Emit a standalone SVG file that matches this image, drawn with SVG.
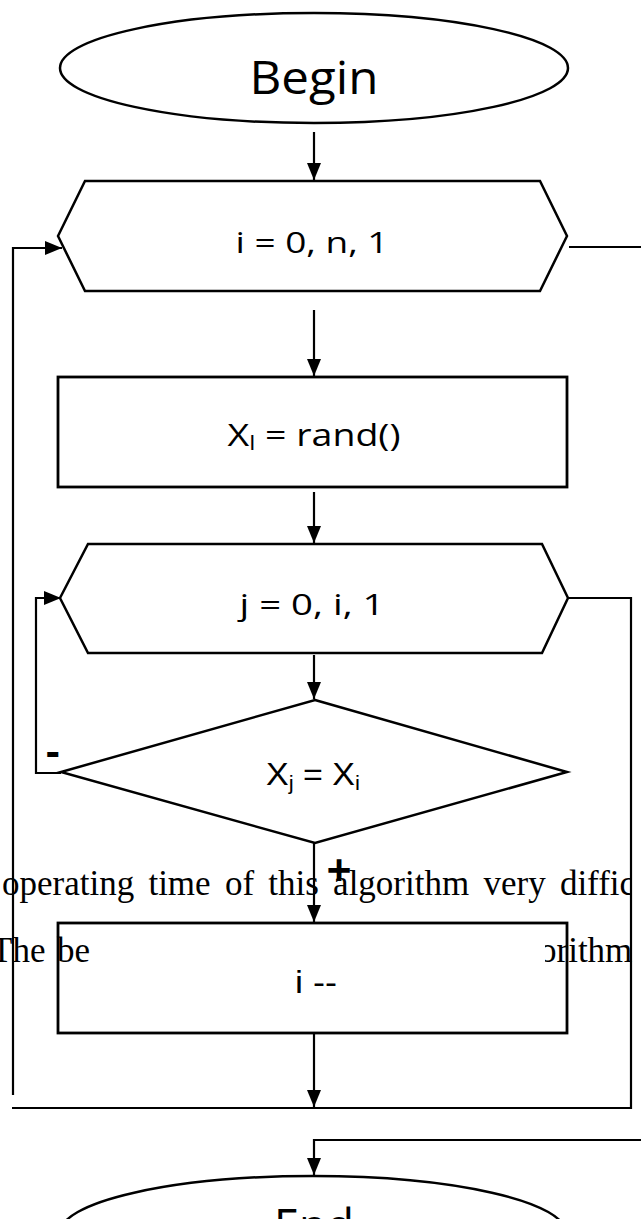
<svg xmlns="http://www.w3.org/2000/svg" width="641" height="1219" viewBox="0 0 641 1219">
<style>
.shape{fill:#fff;stroke:#000;stroke-width:2.5}
.conn{fill:none;stroke:#000;stroke-width:2.2}
.lbl{font-family:"Open Sans",Lato,"Liberation Sans",sans-serif;fill:#000}
.lbl2{font-family:"Liberation Sans",Arial,sans-serif;fill:#000}
.bg{font-family:"Liberation Serif","Times New Roman",serif;font-size:35px;fill:#000}
</style>
<defs>
<marker id="arr" markerUnits="userSpaceOnUse" markerWidth="17" markerHeight="14" refX="17" refY="7" orient="auto"><path d="M0,0 L17,7 L0,14 z" fill="#000"/></marker>
<clipPath id="clipL1"><rect x="0" y="860" width="632" height="50"/></clipPath>
</defs>
<rect width="641" height="1219" fill="#fff"/>

<g id="begin">
<ellipse class="shape" cx="314" cy="68" rx="254" ry="55"/>
<text class="lbl" x="314" y="94" font-size="45" text-anchor="middle" textLength="129" lengthAdjust="spacingAndGlyphs">Begin</text>
</g>
<g id="loop-i">
<polygon class="shape" points="58,236 85,181 540,181 567,236 540,291 85,291"/>
<text class="lbl" x="312" y="253" font-size="30" text-anchor="middle" textLength="153" lengthAdjust="spacingAndGlyphs">i = 0, n, 1</text>
</g>
<g id="assign">
<rect class="shape" x="58" y="377" width="509" height="110" style="stroke-width:2.8"/>
<text class="lbl" x="314" y="446" font-size="31" text-anchor="middle" textLength="173" lengthAdjust="spacingAndGlyphs">X<tspan font-size="20" dy="4">l</tspan><tspan dy="-4"> = rand()</tspan></text>
</g>
<g id="loop-j">
<polygon class="shape" points="60,598 88,544 542,544 568,598 542,653 88,653"/>
<text class="lbl" x="312" y="615" font-size="30" text-anchor="middle" textLength="145" lengthAdjust="spacingAndGlyphs">j = 0, i, 1</text>
</g>
<g id="cond">
<polygon class="shape" points="315,700 567,772 315,843 61,772"/>
<text class="lbl2" x="313" y="785" font-size="32" text-anchor="middle" textLength="94" lengthAdjust="spacingAndGlyphs">X<tspan font-size="21" dy="5">j</tspan><tspan dy="-5"> = X</tspan><tspan font-size="21" dy="5">i</tspan></text>
</g>

<g id="connectors">
<path class="conn" d="M314,132 V180" marker-end="url(#arr)"/>
<path class="conn" d="M314,310 V376" marker-end="url(#arr)"/>
<path class="conn" d="M314,492 V543" marker-end="url(#arr)"/>
<path class="conn" d="M314,655 V699" marker-end="url(#arr)"/>
<path class="conn" d="M314,843 V922" marker-end="url(#arr)"/>
<path class="conn" d="M314,1033 V1107" marker-end="url(#arr)"/>
<path class="conn" d="M61,773 H36 V598 H61" marker-end="url(#arr)"/>
<path class="conn" d="M568,598 H631 V1108 H12"/>
<path class="conn" d="M13,1095 V248 H62" marker-end="url(#arr)"/>
<path class="conn" d="M569,247 H650 V1140 H314 V1175" marker-end="url(#arr)"/>
<text class="lbl" x="46" y="766" font-size="42" font-weight="bold">-</text>
<text class="lbl" x="339" y="886" font-size="44" font-weight="bold" text-anchor="middle">+</text>
</g>

<g id="background-text">
<g clip-path="url(#clipL1)">
<text class="bg" x="2" y="895" word-spacing="5.5">operating time of this algorithm very diffic</text>
</g>
<text class="bg" y="962"><tspan x="-9">The</tspan><tspan x="57">be</tspan></text>
<text class="bg" x="539" y="962">orithm</text>
<rect x="93" y="944" width="452" height="32" fill="#fff"/>
</g>

<g id="dec">
<rect x="58" y="923" width="509" height="110" fill="none" stroke="#000" stroke-width="2.8"/>
<text class="lbl2" x="316" y="993" font-size="32" text-anchor="middle" textLength="42" lengthAdjust="spacingAndGlyphs">i --</text>
</g>
<g id="end">
<ellipse class="shape" cx="313" cy="1233" rx="253" ry="57"/>
<text class="lbl" x="314" y="1242" font-size="45" text-anchor="middle" textLength="80" lengthAdjust="spacingAndGlyphs">End</text>
</g>
</svg>
